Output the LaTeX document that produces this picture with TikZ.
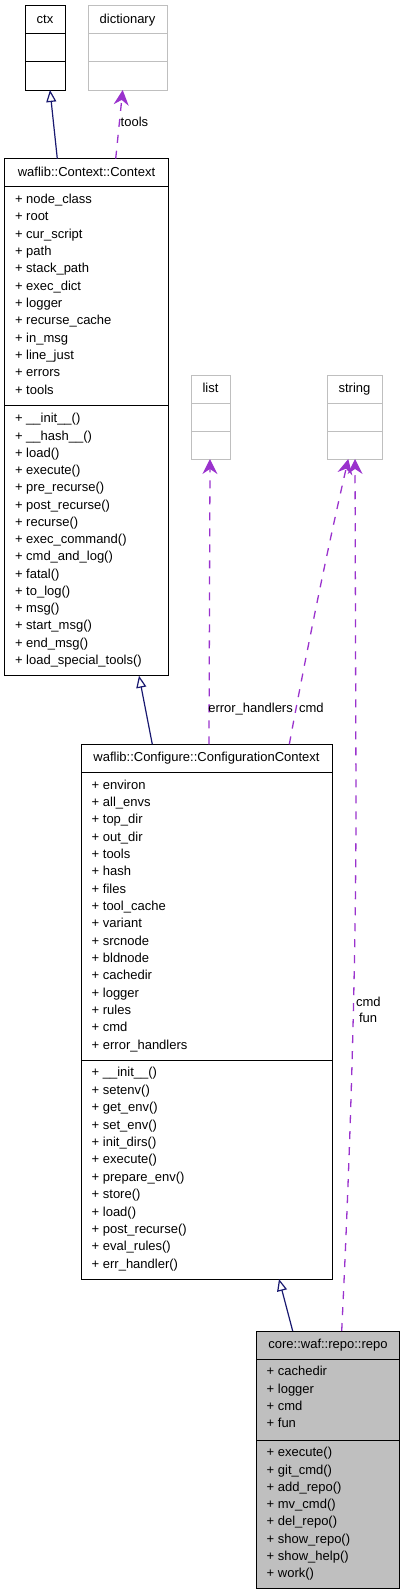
\documentclass[tikz,border=0pt]{standalone}
\usepackage{fontspec}
\setmainfont{Liberation Sans}
\usetikzlibrary{arrows.meta,calc}
\definecolor{navyblue}{HTML}{191970}
\definecolor{usepurple}{HTML}{9A32CD}
\definecolor{extgray}{HTML}{BFBFBF}
\definecolor{repofill}{HTML}{BFBFBF}
\begin{document}
\begin{tikzpicture}[x=1pt,y=-1pt,
  cls/.style={draw=black, line width=1pt, inner sep=0pt, outer sep=0pt, fill=white, anchor=north west},
  ext/.style={draw=extgray, line width=1pt, inner sep=0pt, outer sep=0pt, fill=white, anchor=north west},
  txt/.style={inner sep=0pt, outer sep=0pt, anchor=base west, font=\fontsize{13}{15}\selectfont},
  ttl/.style={inner sep=0pt, outer sep=0pt, anchor=base, font=\fontsize{13}{15}\selectfont},
  lbl/.style={inner sep=0pt, outer sep=0pt, anchor=base west, font=\fontsize{13}{15}\selectfont},
  inh/.style={draw=navyblue, line width=1.2pt, -{Triangle[open, length=12pt, width=10pt, fill=white]}},
  use/.style={draw=usepurple, line width=1.3pt, dash pattern=on 8pt off 8pt, -{Stealth[length=15pt, width=15pt, inset=5pt]}},
]
\useasboundingbox (0,0) rectangle (404,1595);

% ctx
\node[cls, minimum width=40pt, minimum height=84pt] (ctx) at (25,6) {};
\draw[line width=1pt] (25,34) -- (65,34) (25,62) -- (65,62);
\node[ttl] (ctxt) at (45,23.5) {ctx};

% dictionary
\node[ext, minimum width=79pt, minimum height=84pt] (dict) at (88,6) {};
\draw[line width=1pt, extgray] (88,34) -- (167,34) (88,62) -- (167,62);
\node[ttl] (dictt) at (127.5,23.5) {dictionary};

% Context
\node[cls, minimum width=164.4pt, minimum height=517pt] (context) at (4.3,158.7) {};
\draw[line width=1pt] (4.3,186.7) -- (168.7,186.7) (4.3,405) -- (168.7,405);
\node[ttl] (contextt) at (86.5,176.2) {waflib::Context::Context};
\foreach [count=\i] \t in {node\_class, root, cur\_script, path, stack\_path, exec\_dict, logger, recurse\_cache, in\_msg, line\_just, errors, tools}
  \node[txt] (ca\i) at (15,203.5+17.33*\i-17.33) {+ \t};
\foreach [count=\i] \t in {\_\_init\_\_(), \_\_hash\_\_(), load(), execute(), pre\_recurse(), post\_recurse(), recurse(), exec\_command(), cmd\_and\_log(), fatal(), to\_log(), msg(), start\_msg(), end\_msg(), load\_special\_tools()}
  \node[txt] (cm\i) at (15,422.8+17.25*\i-17.25) {+ \t};

% list
\node[ext, minimum width=39pt, minimum height=84pt] (list) at (191,375) {};
\draw[line width=1pt, extgray] (191,403.3) -- (230,403.3) (191,431.3) -- (230,431.3);
\node[ttl] (listt) at (210.5,392.7) {list};

% string
\node[ext, minimum width=55pt, minimum height=84pt] (string) at (327,375) {};
\draw[line width=1pt, extgray] (327,403.3) -- (382,403.3) (327,431.3) -- (382,431.3);
\node[ttl] (stringt) at (354.5,392.7) {string};

% ConfigurationContext
\node[cls, minimum width=251pt, minimum height=534.7pt] (conf) at (81,744.3) {};
\draw[line width=1pt] (81,772.3) -- (332,772.3) (81,1060.3) -- (332,1060.3);
\node[ttl] (conft) at (206.5,761.8) {waflib::Configure::ConfigurationContext};
\foreach [count=\i] \t in {environ, all\_envs, top\_dir, out\_dir, tools, hash, files, tool\_cache, variant, srcnode, bldnode, cachedir, logger, rules, cmd, error\_handlers}
  \node[txt] (fa\i) at (91.7,789.2+17.33*\i-17.33) {+ \t};
\foreach [count=\i] \t in {\_\_init\_\_(), setenv(), get\_env(), set\_env(), init\_dirs(), execute(), prepare\_env(), store(), load(), post\_recurse(), eval\_rules(), err\_handler()}
  \node[txt] (fm\i) at (91.7,1076.8+17.4*\i-17.4) {+ \t};

% repo
\node[cls, fill=repofill, minimum width=142.6pt, minimum height=257.3pt] (repo) at (256.7,1331) {};
\draw[line width=1pt] (256.7,1359.3) -- (399.3,1359.3) (256.7,1440) -- (399.3,1440);
\node[ttl] (repot) at (328,1348.7) {core::waf::repo::repo};
\foreach [count=\i] \t in {cachedir, logger, cmd, fun}
  \node[txt] (ra\i) at (266.7,1375.8+17.33*\i-17.33) {+ \t};
\foreach [count=\i] \t in {execute(), git\_cmd(), add\_repo(), mv\_cmd(), del\_repo(), show\_repo(), show\_help(), work()}
  \node[txt] (rm\i) at (266.7,1456.8+17.24*\i-17.24) {+ \t};

% inheritance
\draw[inh] ([xshift=-29.2pt]context.north) -- ([xshift=5pt]ctx.south);
\draw[inh] ([xshift=-54.2pt]conf.north) -- ([xshift=52.5pt]context.south);
\draw[inh] ([xshift=-35.3pt]repo.north) -- ([xshift=72.5pt]conf.south);

% usage
\draw[use] ([xshift=29.2pt]context.north) -- ([xshift=-4.8pt]dict.south);
\node[lbl] (ltools) at (120.7,126.2) {tools};
\draw[use] ([xshift=2.5pt]conf.north) -- ([xshift=-0.5pt]list.south);
\node[lbl] (lerr) at (208.3,712.8) {error\_handlers};
\draw[use] ([xshift=82.8pt]conf.north) .. controls (305,660) and (325,560) .. ([xshift=-6.2pt]string.south);
\node[lbl] (lcmd1) at (299,712.8) {cmd};
\draw[use] ([xshift=13.7pt]repo.north) .. controls (348,1200) and (356,1000) .. (356,800) -- ([xshift=0.5pt]string.south);
\node[lbl] (lcmd2) at (356,1006.2) {cmd};
\node[lbl] (lfun) at (359,1022.8) {fun};
\end{tikzpicture}
\end{document}
